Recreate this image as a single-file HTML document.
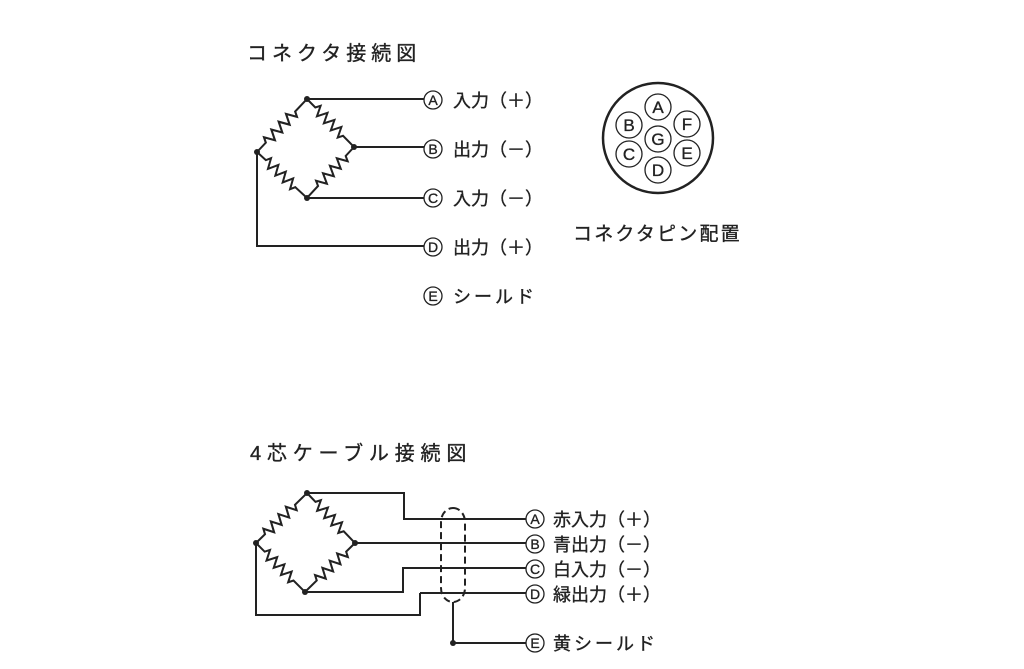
<!DOCTYPE html>
<html><head><meta charset="utf-8"><style>
html,body{margin:0;padding:0;background:#fff;}
svg{display:block}
text{font-family:"Liberation Sans","Noto Sans CJK JP",sans-serif;fill:#222;stroke:#222;stroke-width:0.35px}
.t{font-size:20px;letter-spacing:5px}
.l{font-size:18px;letter-spacing:0px}
.c{font-size:14px;text-anchor:middle;stroke-width:0.2px}
.cc{font-size:17px;text-anchor:middle}
</style></head><body>
<svg width="1024" height="669" viewBox="0 0 1024 669" xmlns="http://www.w3.org/2000/svg">
<defs>
<path id="z" d="M0 0 H12 l2.5,-5 l5,10 l5,-10 l5,10 l5,-10 l5,10 l5,-10 l5,10 l2.5,-5 H68" fill="none" stroke="#222" stroke-width="2"/>
</defs>
<text class="t" x="247" y="60">コネクタ接続図</text>
<text class="t" x="250" y="460" style="letter-spacing:5.8px">4芯ケーブル接続図</text>
<text class="t" x="573" y="240" style="font-size:19px;letter-spacing:2.2px">コネクタピン配置</text>

<g stroke="#222" stroke-width="2" fill="none">
<use href="#z" transform="translate(307,99) rotate(45.6) scale(0.99,1)"/>
<use href="#z" transform="translate(354,147) rotate(132.7) scale(1.02,1)"/>
<use href="#z" transform="translate(257,152) rotate(42.6) scale(1,1)"/>
<use href="#z" transform="translate(257,152) rotate(-46.7) scale(1.07,1)"/>
<path d="M307 99 H424 M354 147 H424 M307 198 H424 M257 152 V246 H424"/>
<circle cx="433" cy="100" r="9" stroke-width="1.3"/>
<circle cx="433" cy="149" r="9" stroke-width="1.3"/>
<circle cx="433" cy="198" r="9" stroke-width="1.3"/>
<circle cx="433" cy="247" r="9" stroke-width="1.3"/>
<circle cx="433" cy="296" r="9" stroke-width="1.3"/>

<circle cx="658" cy="138" r="55" stroke-width="2.5"/>
<g stroke-width="1.3">
<circle cx="658" cy="107" r="13"/><circle cx="658" cy="139" r="13"/><circle cx="658" cy="170" r="13"/>
<circle cx="629" cy="125" r="13"/><circle cx="629" cy="154" r="13"/>
<circle cx="687" cy="124" r="13"/><circle cx="687" cy="153" r="13"/>
</g>

<use href="#z" transform="translate(307,493) rotate(46.2) scale(1.02,1)"/>
<use href="#z" transform="translate(355,543) rotate(135.6) scale(1.03,1)"/>
<use href="#z" transform="translate(256,543) rotate(45) scale(1.02,1)"/>
<use href="#z" transform="translate(256,543) rotate(-44.4) scale(1.05,1)"/>
<path d="M307 493 H404 V519 H526 M355 543 H526 M305 592 H403 V568 H526 M420 593 H526 M420 593 V615 H256 V543 M453 602 V643 H526"/>
<rect x="441" y="508" width="24" height="94" rx="12" ry="14" stroke-dasharray="7,4"/>
<g stroke-width="1.3">
<circle cx="535" cy="519" r="9"/><circle cx="535" cy="544" r="9"/><circle cx="535" cy="569" r="9"/><circle cx="535" cy="594" r="9"/><circle cx="535" cy="643" r="9"/>
</g>
</g>
<g fill="#222">
<circle cx="307" cy="99" r="3"/><circle cx="354" cy="147" r="3"/><circle cx="307" cy="198" r="3"/><circle cx="257" cy="152" r="3"/>
<circle cx="307" cy="493" r="3"/><circle cx="355" cy="543" r="3"/><circle cx="305" cy="592" r="3"/><circle cx="256" cy="543" r="3"/>
<circle cx="453" cy="643" r="3"/>
</g>

<g class="c">
<text x="433" y="105">A</text><text x="433" y="154">B</text><text x="433" y="203">C</text><text x="433" y="252">D</text><text x="433" y="301">E</text>
<text x="535" y="524">A</text><text x="535" y="549">B</text><text x="535" y="574">C</text><text x="535" y="599">D</text><text x="535" y="648">E</text>
</g>
<g class="cc">
<text x="658" y="113">A</text><text x="658" y="145">G</text><text x="658" y="176">D</text>
<text x="629" y="131">B</text><text x="629" y="160">C</text><text x="687" y="130">F</text><text x="687" y="159">E</text>
</g>
<g class="l">
<text x="453" y="107">入力（＋）</text>
<text x="453" y="156">出力（－）</text>
<text x="453" y="205">入力（－）</text>
<text x="453" y="254">出力（＋）</text>
<text x="453" y="303" style="letter-spacing:3px">シールド</text>
<text x="553" y="526">赤入力（＋）</text>
<text x="553" y="551">青出力（－）</text>
<text x="553" y="576">白入力（－）</text>
<text x="553" y="601">緑出力（＋）</text>
<text x="553" y="650" style="letter-spacing:3px">黄シールド</text>
</g>
</svg>
</body></html>
